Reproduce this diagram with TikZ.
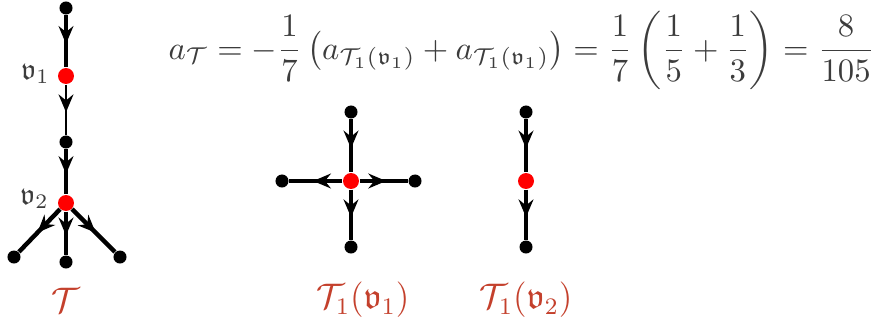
\documentclass[tikz,border=0pt]{standalone}
\usepackage{graphicx}
\usepackage{amsmath,amssymb}
\usetikzlibrary{arrows.meta,decorations.markings}
\definecolor{lblred}{RGB}{196,64,44}
\definecolor{txtgray}{RGB}{60,60,60}
\begin{document}
\begin{tikzpicture}[x=0.338pt,y=-0.338pt,
  leaf/.style={circle,fill=black,inner sep=0pt,minimum size=4.4pt},
  redv/.style={circle,fill=red,inner sep=0pt,minimum size=5.4pt},
  edge/.style={line width=1.5pt,postaction={decorate},decoration={markings,
     mark=at position 0.55 with {\arrow{Stealth[length=6pt,width=5pt,inset=2pt]}}}},
  thinedge/.style={edge,line width=1pt},
  lbl/.style={text=lblred,font=\large},
  vlbl/.style={text=txtgray}]
\useasboundingbox (0,0) rectangle (887,325);
% tree T
\node[leaf] (t0) at (66,8) {};
\node[redv] (v1) at (66,76) {};
\node[leaf] (t2) at (66,142) {};
\node[redv] (v2) at (66,203) {};
\node[leaf] (tl) at (14,257) {};
\node[leaf] (tb) at (66,262) {};
\node[leaf] (tr) at (120,257) {};
\draw[edge] (t0) -- (v1);
\draw[thinedge] (v1) -- (t2);
\draw[edge] (t2) -- (v2);
\draw[edge] (v2) -- (tl);
\draw[edge] (v2) -- (tb);
\draw[edge] (v2) -- (tr);
\node[vlbl,anchor=east] (l1) at (60,74) {$\mathfrak{v}_1$};
\node[vlbl,anchor=east] (l2) at (59,199) {$\mathfrak{v}_2$};
\node[lbl] (lT) at (66,300) {$\mathcal{T}$};
% cross
\node[redv] (c) at (351,181) {};
\node[leaf] (ct) at (351,112) {};
\node[leaf] (cb) at (351,247) {};
\node[leaf] (cl) at (282,181) {};
\node[leaf] (cr) at (415,181) {};
\draw[edge] (ct) -- (c);
\draw[edge] (c) -- (cb);
\draw[edge] (c) -- (cl);
\draw[edge] (c) -- (cr);
\node[lbl] (lc) at (363,300) {$\mathcal{T}_1(\mathfrak{v}_1)$};
% vertical
\node[leaf] (st) at (526,112) {};
\node[redv] (s) at (526,181) {};
\node[leaf] (sb) at (526,247) {};
\draw[edge] (st) -- (s);
\draw[edge] (s) -- (sb);
\node[lbl] (ls) at (526,300) {$\mathcal{T}_1(\mathfrak{v}_2)$};
% formula
\node[text=txtgray,anchor=base west,inner sep=0pt] (f) at (168,59) {\scalebox{1.105}{$\displaystyle a_{\mathcal{T}}=-\frac{1}{7}\left(a_{\mathcal{T}_1(\mathfrak{v}_1)}+a_{\mathcal{T}_1(\mathfrak{v}_1)}\right)=\frac{1}{7}\left(\frac{1}{5}+\frac{1}{3}\right)=\frac{8}{105}$}};
\end{tikzpicture}
\end{document}
